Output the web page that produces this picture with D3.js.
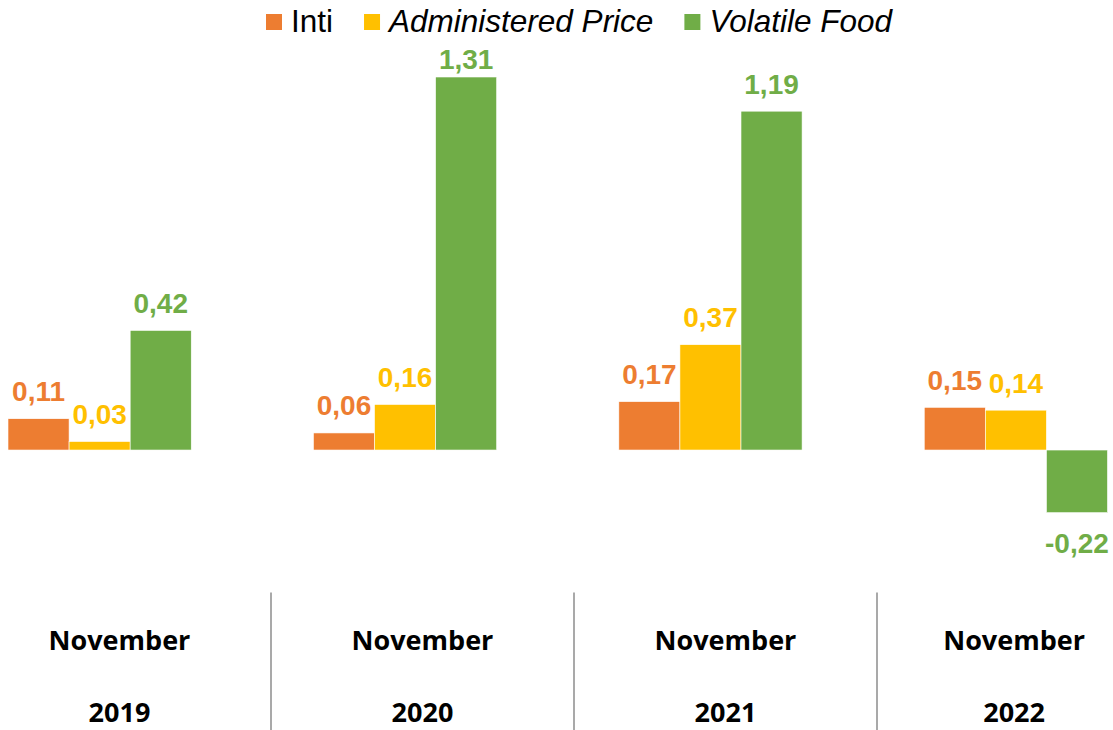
<!DOCTYPE html>
<html>
<head>
<meta charset="utf-8">
<script src="https://cdn.jsdelivr.net/npm/d3@7"></script>
<style>
  body { margin: 0; background: #fff; }
  svg { display: block; }
</style>
</head>
<body>
<svg></svg>
<script>
const width = 1113;
const height = 730;

// data
const periods = ["2019", "2020", "2021", "2022"];
const monthLabel = "November";
const seriesNames = ["Inti", "Administered Price", "Volatile Food"];
const seriesColors = ["#ED7D31", "#FFC000", "#70AD47"];
const intiValues = [0.11, 0.06, 0.17, 0.15];
const administeredValues = [0.03, 0.16, 0.37, 0.14];
const volatileValues = [0.42, 1.31, 1.19, -0.22];

const seriesValues = [intiValues, administeredValues, volatileValues];

const svg = d3.select("svg")
  .attr("width", width)
  .attr("height", height);

const locale = d3.formatLocale({ decimal: ",", thousands: ".", grouping: [3], currency: ["", ""], minus: "-" });
const fmt = locale.format(".2f");

// scales
const y = d3.scaleLinear().domain([-0.5, 1.5]).range([592.4, 22.9]);
const plotTop = 47;   // labels are kept below this line

const xGroup = d3.scaleBand()
  .domain(periods)
  .range([8, 1107.5])
  .paddingInner(0.4)
  .paddingOuter(0);

const xSeries = d3.scaleBand()
  .domain(seriesNames)
  .range([0, xGroup.bandwidth()]);

const xCat = d3.scaleBand()
  .domain(periods)
  .range([-32, 1180]);

// bars
const rows = [];
periods.forEach((p, i) => {
  seriesNames.forEach((s, j) => {
    rows.push({ period: p, series: s, value: seriesValues[j][i], color: seriesColors[j] });
  });
});

const bars = svg.append("g").attr("class", "bars");
bars.selectAll("rect")
  .data(rows)
  .enter()
  .append("rect")
  .attr("x", d => xGroup(d.period) + xSeries(d.series))
  .attr("width", xSeries.bandwidth())
  .attr("y", d => Math.min(y(d.value), y(0)))
  .attr("height", d => Math.abs(y(d.value) - y(0)))
  .attr("fill", d => d.color)
  .attr("stroke", "#fff")
  .attr("stroke-width", 0.6);

// value labels
const labelSize = 28;
svg.append("g").attr("class", "labels")
  .selectAll("text")
  .data(rows)
  .enter()
  .append("text")
  .attr("x", d => xGroup(d.period) + xSeries(d.series) + xSeries.bandwidth() / 2)
  .attr("y", d => d.value >= 0
    ? Math.max(y(d.value) - 17.5, plotTop + labelSize * 0.78)
    : y(d.value) + 40)
  .attr("text-anchor", "middle")
  .attr("font-family", "Liberation Sans, Arial, sans-serif")
  .attr("font-weight", "bold")
  .attr("font-size", labelSize)
  .attr("fill", d => d.color)
  .text(d => fmt(d.value));

// category separators
svg.append("g").attr("class", "separators")
  .selectAll("line")
  .data(periods.slice(1))
  .enter()
  .append("line")
  .attr("x1", d => xCat(d))
  .attr("x2", d => xCat(d))
  .attr("y1", y(-0.5))
  .attr("y2", height)
  .attr("stroke", "#8c8c8c")
  .attr("stroke-width", 1.5);

// category labels
const catG = svg.append("g").attr("class", "categories")
  .attr("font-family", "Open Sans, sans-serif")
  .attr("font-weight", "bold")
  .attr("font-size", 27)
  .attr("fill", "#000")
  .attr("text-anchor", "middle");

periods.forEach(p => {
  const g = catG.append("g");
  const m = g.append("text").attr("y", 650).text(monthLabel);
  const yr = g.append("text").attr("y", 722).text(p);
  const half = m.node().getComputedTextLength() / 2;
  const cx = Math.min(xCat(p) + xCat.bandwidth() / 2, width - 28 - half);
  m.attr("x", cx);
  yr.attr("x", cx);
});

// legend
const legend = svg.append("g").attr("class", "legend");
let lx = 266;
seriesNames.forEach((s, j) => {
  legend.append("rect")
    .attr("x", lx)
    .attr("y", 14)
    .attr("width", 16)
    .attr("height", 16)
    .attr("fill", seriesColors[j]);
  const t = legend.append("text")
    .attr("x", lx + 25)
    .attr("y", 32)
    .attr("font-family", "Liberation Sans, Arial, sans-serif")
    .attr("font-size", 31.5)
    .attr("font-style", j === 0 ? "normal" : "italic")
    .attr("fill", "#000")
    .text(s);
  lx += 25 + t.node().getComputedTextLength() + 31;
});
</script>
</body>
</html>
